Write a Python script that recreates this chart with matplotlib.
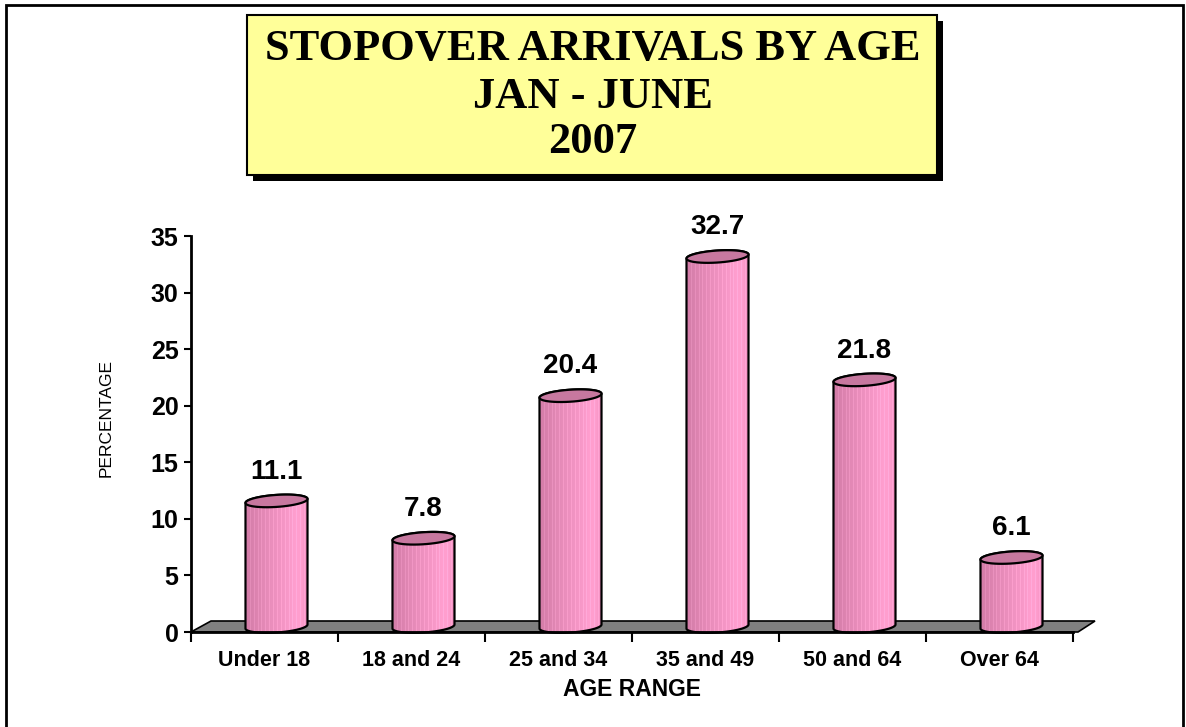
import numpy as np
import matplotlib.pyplot as plt
from matplotlib.patches import Polygon, Rectangle

# data
categories = ["Under 18", "18 and 24", "25 and 34", "35 and 49", "50 and 64", "Over 64"]
percentages = [11.1, 7.8, 20.4, 32.7, 21.8, 6.1]
yticks = [0, 5, 10, 15, 20, 25, 30, 35]
title_lines = ["STOPOVER ARRIVALS BY AGE", "JAN - JUNE", "2007"]

W, H = 1186, 727
fig = plt.figure(figsize=(W / 100, H / 100), dpi=100)
fig.patch.set_facecolor("white")

# axes placed in pixels: x from 191 to 1073, y from 632 (0) to 236 (35)
ax_l, ax_r, ax_b, ax_t = 191, 1073, 632, 236
ax = fig.add_axes([ax_l / W, 1 - ax_b / H, (ax_r - ax_l) / W, (ax_b - ax_t) / H])
ax.set_facecolor("none")

n = len(categories)
sx = (ax_r - ax_l) / n       # px per category
sy = (ax_b - ax_t) / 35.0    # px per percent


def px(dx, dy):
    return dx / sx, dy / sy


# floor of the 3d plot
fdx, fdy = px(20, 11)
floor = Polygon([(-0.5, 0), (-0.5 + fdx, fdy), (n - 0.5 + px(22, 0)[0], fdy),
                 (n - 0.5 + px(5, 0)[0], 0)],
                closed=True, fc="#808080", ec="black", lw=1.2, zorder=1, clip_on=False)
ax.add_patch(floor)

# gradient for cylinder bodies
ncol = 64
left = np.array([0.83, 0.49, 0.66])
right = np.array([1.0, 0.62, 0.81])
s = np.linspace(0, 1, ncol)
ramp = np.clip(s / 0.8, 0, 1)
cols = left[None, :] + (right - left)[None, :] * ramp[:, None]
cols[s > 0.9] -= 0.05 * ((s[s > 0.9] - 0.9) / 0.1)[:, None]
cols[::4] = np.clip(cols[::4] + 0.05, 0, 1)
grad = np.repeat(cols[None, :, :], 2, axis=0)

a, b = px(31, 6)
k = px(0, 2)[1]
y_off = px(0, 5.5)[1]
t = np.linspace(0, 2 * np.pi, 200)

for i, v in enumerate(percentages):
    cx = i + px(12, 0)[0]
    y0 = y_off
    y1 = v + y_off
    tb = np.linspace(np.pi, 2 * np.pi, 80)
    tt = np.linspace(0, np.pi, 80)
    bx = cx + a * np.cos(tb)
    by = y0 + b * np.sin(tb) + k * np.cos(tb)
    tx = cx + a * np.cos(tt)
    ty = y1 + b * np.sin(tt) + k * np.cos(tt)
    verts = np.column_stack([np.concatenate([bx, tx]), np.concatenate([by, ty])])
    body = Polygon(verts, closed=True, fc="none", ec="black", lw=1.6, zorder=3, clip_on=False)
    ax.add_patch(body)
    img = ax.imshow(grad, extent=[cx - a, cx + a, -1, y1 + 1], aspect="auto",
                    zorder=2, interpolation="nearest")
    img.set_clip_path(body)
    top = Polygon(np.column_stack([cx + a * np.cos(t), y1 + b * np.sin(t) + k * np.cos(t)]),
                  closed=True, fc="#c7789f", ec="black", lw=1.6, zorder=4, clip_on=False)
    ax.add_patch(top)
    ax.annotate(f"{v}", xy=(cx, v), xytext=(0, 20), textcoords="offset points",
                ha="center", va="baseline", fontsize=20, fontweight="bold",
                family="Liberation Sans", annotation_clip=False)

ax.set_xlim(-0.5, n - 0.5)
ax.set_ylim(0, 35)

for side in ["top", "right"]:
    ax.spines[side].set_visible(False)
ax.spines["left"].set_linewidth(2)
ax.spines["bottom"].set_linewidth(2)
ax.spines["bottom"].set_zorder(5)

ax.set_yticks(yticks)
ax.set_yticklabels([str(y) for y in yticks], fontsize=18, fontweight="bold",
                   family="Liberation Sans")
ax.tick_params(axis="y", length=5, width=1.5, pad=4)

ax.set_xticks(range(n))
ax.set_xticklabels(categories, fontsize=15.5, fontweight="bold", family="Liberation Sans")
ax.set_xticks(np.arange(-0.5, n, 1), minor=True)
ax.tick_params(axis="x", which="major", length=0, pad=13)
ax.tick_params(axis="x", which="minor", length=7, width=1.5)

fig.text(632 / W, 1 - 690 / H, "AGE RANGE", ha="center", va="center",
         fontsize=16.5, fontweight="bold", family="Liberation Sans")
fig.text(106 / W, 1 - 418 / H, "PERCENTAGE", ha="center", va="center",
         rotation=90, fontsize=12.5, family="Liberation Sans")

# title box with drop shadow
bx0, by0, bx1, by1 = 247, 15, 937, 175
fig.add_artist(Rectangle(((bx0 + 6) / W, 1 - (by1 + 6) / H), (bx1 - bx0) / W, (by1 - by0) / H,
                         transform=fig.transFigure, fc="black", ec="black", lw=0))
fig.add_artist(Rectangle((bx0 / W, 1 - by1 / H), (bx1 - bx0) / W, (by1 - by0) / H,
                         transform=fig.transFigure, fc="#ffff99", ec="black", lw=1.5))
for line, yc in zip(title_lines, [49, 97, 142]):
    fig.text(593 / W, 1 - yc / H, line, ha="center", va="center", fontsize=32,
             fontweight="bold", family="Liberation Serif")

# outer frame
fig.add_artist(Rectangle((6 / W, -0.02), (1183 - 6) / W, (H - 5) / H + 0.02,
                         transform=fig.transFigure, fill=False, ec="black", lw=2))

fig.savefig("out.png", dpi=100)
